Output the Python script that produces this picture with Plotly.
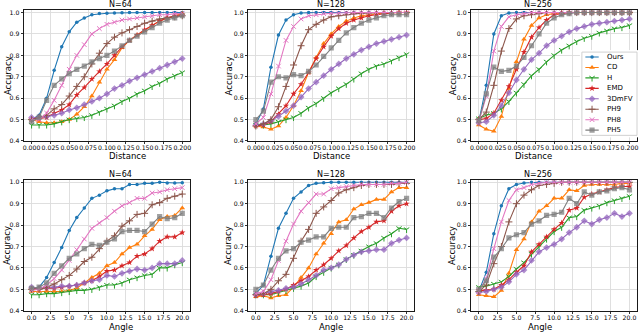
import plotly.graph_objects as go

# ---------------- data ----------------
DIST = [0.00, 0.01, 0.02, 0.03, 0.04, 0.05, 0.06, 0.07, 0.08, 0.09, 0.10,
        0.11, 0.12, 0.13, 0.14, 0.15, 0.16, 0.17, 0.18, 0.19, 0.20]
ANGLE = [0, 1, 2, 3, 4, 5, 6, 7, 8, 9, 10, 11, 12, 13, 14, 15, 16, 17, 18, 19, 20]

SERIES = ["Ours", "CD", "H", "EMD", "3DmFV", "PH9", "PH8", "PH5"]
TITLES = ["N=64", "N=128", "N=256"]

DIST_TICKS = [0.0, 0.025, 0.05, 0.075, 0.1, 0.125, 0.15, 0.175, 0.2]
ANGLE_TICKS = [0.0, 2.5, 5.0, 7.5, 10.0, 12.5, 15.0, 17.5, 20.0]
ACC_TICKS = [0.4, 0.5, 0.6, 0.7, 0.8, 0.9, 1.0]

# Distance, N=64
D64_OURS = [0.50, 0.52, 0.60, 0.73, 0.84, 0.91, 0.955, 0.975, 0.99, 0.995, 0.997, 0.998, 0.999, 1.0, 1.0, 1.0, 1.0, 1.0, 1.0, 1.0, 1.0]
D64_CD = [0.50, 0.49, 0.485, 0.485, 0.49, 0.50, 0.525, 0.56, 0.61, 0.675, 0.735, 0.78, 0.835, 0.87, 0.895, 0.915, 0.94, 0.96, 0.975, 0.985, 0.995]
D64_H = [0.475, 0.475, 0.475, 0.48, 0.49, 0.50, 0.505, 0.51, 0.52, 0.535, 0.55, 0.565, 0.585, 0.60, 0.62, 0.635, 0.655, 0.67, 0.69, 0.705, 0.72]
D64_EMD = [0.50, 0.505, 0.51, 0.53, 0.545, 0.57, 0.615, 0.65, 0.69, 0.725, 0.76, 0.80, 0.84, 0.87, 0.895, 0.92, 0.94, 0.96, 0.975, 0.985, 0.99]
D64_3DMFV = [0.51, 0.51, 0.515, 0.52, 0.53, 0.545, 0.555, 0.57, 0.585, 0.60, 0.62, 0.645, 0.66, 0.68, 0.695, 0.71, 0.725, 0.74, 0.755, 0.77, 0.785]
D64_PH9 = [0.50, 0.51, 0.52, 0.55, 0.57, 0.61, 0.655, 0.70, 0.76, 0.81, 0.855, 0.885, 0.905, 0.92, 0.935, 0.95, 0.96, 0.97, 0.975, 0.98, 0.985]
D64_PH8 = [0.50, 0.50, 0.53, 0.59, 0.66, 0.735, 0.80, 0.85, 0.90, 0.925, 0.945, 0.955, 0.965, 0.97, 0.975, 0.98, 0.985, 0.99, 0.99, 0.995, 0.995]
D64_PH5 = [0.49, 0.51, 0.59, 0.66, 0.69, 0.715, 0.735, 0.75, 0.77, 0.785, 0.80, 0.82, 0.845, 0.87, 0.89, 0.91, 0.93, 0.95, 0.965, 0.975, 0.985]

# Distance, N=128
D128_OURS = [0.48, 0.55, 0.745, 0.895, 0.965, 0.99, 0.998, 1.0, 1.0, 1.0, 1.0, 1.0, 1.0, 1.0, 1.0, 1.0, 1.0, 1.0, 1.0, 1.0, 1.0]
D128_CD = [0.47, 0.465, 0.455, 0.47, 0.51, 0.565, 0.635, 0.72, 0.79, 0.855, 0.90, 0.935, 0.96, 0.975, 0.985, 0.99, 0.995, 0.998, 1.0, 1.0, 1.0]
D128_H = [0.475, 0.475, 0.48, 0.49, 0.50, 0.51, 0.53, 0.555, 0.575, 0.60, 0.625, 0.645, 0.665, 0.69, 0.715, 0.735, 0.75, 0.76, 0.775, 0.79, 0.805]
D128_EMD = [0.47, 0.475, 0.49, 0.525, 0.565, 0.62, 0.665, 0.72, 0.785, 0.84, 0.89, 0.925, 0.95, 0.965, 0.975, 0.985, 0.99, 0.995, 0.998, 1.0, 1.0]
D128_3DMFV = [0.475, 0.48, 0.495, 0.515, 0.54, 0.565, 0.605, 0.645, 0.675, 0.705, 0.735, 0.76, 0.785, 0.805, 0.825, 0.84, 0.855, 0.865, 0.875, 0.885, 0.895]
D128_PH9 = [0.47, 0.48, 0.50, 0.56, 0.655, 0.755, 0.845, 0.92, 0.945, 0.965, 0.98, 0.985, 0.99, 0.995, 0.997, 0.998, 1.0, 1.0, 1.0, 1.0, 1.0]
D128_PH8 = [0.48, 0.51, 0.62, 0.75, 0.87, 0.935, 0.97, 0.985, 0.99, 0.995, 0.997, 0.998, 1.0, 1.0, 1.0, 1.0, 1.0, 1.0, 1.0, 1.0, 1.0]
D128_PH5 = [0.50, 0.54, 0.675, 0.70, 0.695, 0.71, 0.705, 0.725, 0.755, 0.795, 0.835, 0.87, 0.905, 0.93, 0.95, 0.965, 0.975, 0.985, 0.99, 0.99, 0.99]

# Distance, N=256
D256_OURS = [0.49, 0.66, 0.90, 0.985, 0.998, 1.0, 1.0, 1.0, 1.0, 1.0, 1.0, 1.0, 1.0, 1.0, 1.0, 1.0, 1.0, 1.0, 1.0, 1.0, 1.0]
D256_CD = [0.475, 0.455, 0.445, 0.515, 0.645, 0.77, 0.875, 0.94, 0.975, 0.99, 0.995, 1.0, 1.0, 1.0, 1.0, 1.0, 1.0, 1.0, 1.0, 1.0, 1.0]
D256_H = [0.505, 0.52, 0.53, 0.55, 0.585, 0.625, 0.665, 0.705, 0.735, 0.77, 0.80, 0.825, 0.845, 0.865, 0.88, 0.89, 0.905, 0.915, 0.925, 0.93, 0.94]
D256_EMD = [0.50, 0.505, 0.53, 0.59, 0.655, 0.735, 0.815, 0.885, 0.93, 0.965, 0.99, 0.995, 1.0, 1.0, 1.0, 1.0, 1.0, 1.0, 1.0, 1.0, 1.0]
D256_3DMFV = [0.485, 0.49, 0.52, 0.565, 0.625, 0.685, 0.735, 0.78, 0.81, 0.845, 0.87, 0.89, 0.91, 0.925, 0.935, 0.945, 0.95, 0.955, 0.96, 0.965, 0.97]
D256_PH9 = [0.50, 0.535, 0.66, 0.82, 0.925, 0.97, 0.985, 0.99, 0.995, 1.0, 1.0, 1.0, 1.0, 1.0, 1.0, 1.0, 1.0, 1.0, 1.0, 1.0, 1.0]
D256_PH8 = [0.49, 0.61, 0.82, 0.935, 0.98, 0.99, 0.995, 1.0, 1.0, 1.0, 1.0, 1.0, 1.0, 1.0, 1.0, 1.0, 1.0, 1.0, 1.0, 1.0, 1.0]
D256_PH5 = [0.495, 0.62, 0.745, 0.725, 0.73, 0.75, 0.79, 0.845, 0.90, 0.95, 0.975, 0.99, 0.995, 1.0, 1.0, 1.0, 1.0, 1.0, 1.0, 1.0, 1.0]

# Angle, N=64
A64_OURS = [0.50, 0.51, 0.555, 0.625, 0.695, 0.775, 0.835, 0.88, 0.925, 0.94, 0.96, 0.97, 0.97, 0.99, 0.99, 0.995, 0.995, 1.0, 0.997, 0.997, 0.998]
A64_CD = [0.49, 0.49, 0.49, 0.49, 0.49, 0.495, 0.505, 0.53, 0.555, 0.575, 0.61, 0.625, 0.665, 0.695, 0.71, 0.75, 0.78, 0.825, 0.84, 0.845, 0.88]
A64_H = [0.475, 0.475, 0.48, 0.48, 0.485, 0.49, 0.495, 0.495, 0.50, 0.51, 0.52, 0.52, 0.53, 0.545, 0.555, 0.565, 0.57, 0.60, 0.60, 0.615, 0.625]
A64_EMD = [0.50, 0.505, 0.505, 0.505, 0.51, 0.515, 0.52, 0.53, 0.54, 0.56, 0.585, 0.59, 0.61, 0.625, 0.655, 0.665, 0.69, 0.725, 0.745, 0.745, 0.765]
A64_3DMFV = [0.51, 0.505, 0.51, 0.51, 0.515, 0.515, 0.52, 0.53, 0.54, 0.545, 0.565, 0.56, 0.575, 0.585, 0.595, 0.59, 0.60, 0.62, 0.62, 0.62, 0.635]
A64_PH9 = [0.50, 0.50, 0.51, 0.525, 0.545, 0.565, 0.595, 0.63, 0.65, 0.69, 0.725, 0.75, 0.795, 0.82, 0.85, 0.855, 0.895, 0.905, 0.925, 0.935, 0.945]
A64_PH8 = [0.495, 0.50, 0.52, 0.55, 0.59, 0.635, 0.685, 0.735, 0.785, 0.81, 0.835, 0.865, 0.89, 0.905, 0.925, 0.925, 0.95, 0.955, 0.965, 0.97, 0.975]
A64_PH5 = [0.505, 0.51, 0.53, 0.575, 0.61, 0.645, 0.665, 0.69, 0.71, 0.705, 0.72, 0.735, 0.77, 0.775, 0.775, 0.77, 0.805, 0.84, 0.83, 0.835, 0.855]

# Angle, N=128
A128_OURS = [0.48, 0.52, 0.655, 0.785, 0.855, 0.925, 0.955, 0.985, 0.995, 0.998, 1.0, 1.0, 1.0, 1.0, 1.0, 1.0, 1.0, 1.0, 1.0, 1.0, 1.0]
A128_CD = [0.465, 0.47, 0.46, 0.47, 0.475, 0.51, 0.555, 0.60, 0.665, 0.715, 0.76, 0.815, 0.825, 0.875, 0.895, 0.905, 0.92, 0.92, 0.955, 0.975, 0.975]
A128_H = [0.475, 0.475, 0.475, 0.485, 0.495, 0.505, 0.515, 0.53, 0.56, 0.58, 0.60, 0.615, 0.64, 0.66, 0.68, 0.70, 0.715, 0.74, 0.76, 0.785, 0.78]
A128_EMD = [0.47, 0.475, 0.48, 0.49, 0.50, 0.52, 0.54, 0.56, 0.59, 0.615, 0.645, 0.68, 0.705, 0.74, 0.77, 0.79, 0.815, 0.82, 0.865, 0.89, 0.90]
A128_3DMFV = [0.475, 0.48, 0.49, 0.495, 0.505, 0.51, 0.525, 0.545, 0.565, 0.59, 0.60, 0.615, 0.64, 0.66, 0.675, 0.68, 0.685, 0.685, 0.715, 0.73, 0.74]
A128_PH9 = [0.475, 0.48, 0.50, 0.54, 0.57, 0.645, 0.725, 0.78, 0.855, 0.885, 0.915, 0.95, 0.965, 0.975, 0.985, 0.99, 0.99, 0.99, 0.99, 0.995, 0.995]
A128_PH8 = [0.48, 0.49, 0.545, 0.635, 0.725, 0.805, 0.865, 0.905, 0.945, 0.945, 0.97, 0.975, 0.98, 0.985, 0.99, 0.99, 0.99, 0.99, 0.995, 0.995, 1.0]
A128_PH5 = [0.50, 0.52, 0.59, 0.645, 0.68, 0.69, 0.72, 0.73, 0.745, 0.745, 0.785, 0.79, 0.79, 0.835, 0.84, 0.855, 0.855, 0.835, 0.88, 0.91, 0.925]

# Angle, N=256
A256_OURS = [0.49, 0.58, 0.76, 0.89, 0.97, 0.99, 0.997, 1.0, 1.0, 1.0, 1.0, 1.0, 1.0, 1.0, 1.0, 1.0, 1.0, 1.0, 1.0, 1.0, 1.0]
A256_CD = [0.475, 0.47, 0.465, 0.495, 0.575, 0.685, 0.735, 0.815, 0.865, 0.89, 0.925, 0.925, 0.965, 0.96, 0.985, 0.99, 0.99, 0.99, 0.99, 0.995, 0.995]
A256_H = [0.51, 0.515, 0.525, 0.535, 0.56, 0.595, 0.625, 0.665, 0.70, 0.735, 0.77, 0.79, 0.835, 0.84, 0.87, 0.88, 0.89, 0.905, 0.915, 0.925, 0.935]
A256_EMD = [0.495, 0.495, 0.50, 0.52, 0.545, 0.58, 0.61, 0.675, 0.71, 0.745, 0.78, 0.81, 0.87, 0.88, 0.93, 0.945, 0.955, 0.965, 0.975, 0.98, 0.98]
A256_3DMFV = [0.485, 0.49, 0.50, 0.51, 0.535, 0.57, 0.59, 0.635, 0.675, 0.695, 0.71, 0.735, 0.765, 0.79, 0.82, 0.805, 0.825, 0.835, 0.855, 0.84, 0.855]
A256_PH9 = [0.49, 0.52, 0.62, 0.70, 0.815, 0.90, 0.94, 0.965, 0.985, 0.99, 0.995, 1.0, 1.0, 1.0, 1.0, 1.0, 1.0, 1.0, 1.0, 1.0, 1.0]
A256_PH8 = [0.49, 0.55, 0.69, 0.815, 0.915, 0.965, 0.975, 0.99, 0.995, 1.0, 1.0, 1.0, 1.0, 1.0, 1.0, 1.0, 1.0, 1.0, 1.0, 1.0, 1.0]
A256_PH5 = [0.50, 0.54, 0.65, 0.69, 0.74, 0.755, 0.765, 0.805, 0.82, 0.845, 0.85, 0.86, 0.925, 0.90, 0.955, 0.94, 0.955, 0.96, 0.97, 0.975, 0.965]

PANELS = [
    (DIST, [D64_OURS, D64_CD, D64_H, D64_EMD, D64_3DMFV, D64_PH9, D64_PH8, D64_PH5]),
    (DIST, [D128_OURS, D128_CD, D128_H, D128_EMD, D128_3DMFV, D128_PH9, D128_PH8, D128_PH5]),
    (DIST, [D256_OURS, D256_CD, D256_H, D256_EMD, D256_3DMFV, D256_PH9, D256_PH8, D256_PH5]),
    (ANGLE, [A64_OURS, A64_CD, A64_H, A64_EMD, A64_3DMFV, A64_PH9, A64_PH8, A64_PH5]),
    (ANGLE, [A128_OURS, A128_CD, A128_H, A128_EMD, A128_3DMFV, A128_PH9, A128_PH8, A128_PH5]),
    (ANGLE, [A256_OURS, A256_CD, A256_H, A256_EMD, A256_3DMFV, A256_PH9, A256_PH8, A256_PH5]),
]

# ---------------- style ----------------
W, H = 640, 334
FONT = "DejaVu Sans"
COLORS = ["#1f77b4", "#ff7f0e", "#2ca02c", "#d62728", "#9467bd", "#8c564b", "#e377c2", "#7f7f7f"]
SYMBOLS = ["circle", "triangle-up", "y-down-open", "star", "diamond", "cross-thin-open", "x-thin-open", "square"]
MSIZES = [3.5, 5, 4.5, 4.8, 5.2, 5, 4.6, 5.2]
MOPAC = [1, 1, 1, 1, 0.75, 1, 1, 0.75]
OPEN = [False, False, True, False, False, True, True, False]

COL_PX = [(23.1, 189.4), (248.1, 414.4), (471.7, 638.0)]
ROW_PX = [(9.3, 141.7), (181.1, 313.5)]
XTITLE_PX = [156.5, 330.0]         # vertical centre of "Distance" / "Angle"
YTITLE_PX = [6.5, 228.5, 453.0]    # horizontal centre of "Accuracy" per column


def xdom(c):
    a, b = COL_PX[c]
    return [a / W, b / W]


def ydom(r):
    a, b = ROW_PX[r]
    return [1 - b / H, 1 - a / H]


fig = go.Figure()

for p, (xs, ys_list) in enumerate(PANELS):
    r, c = divmod(p, 3)
    idx = p + 1
    xa = "x" if idx == 1 else f"x{idx}"
    ya = "y" if idx == 1 else f"y{idx}"
    for k, name in enumerate(SERIES):
        mk = dict(symbol=SYMBOLS[k], size=MSIZES[k], color=COLORS[k], opacity=MOPAC[k])
        if OPEN[k]:
            mk["line"] = dict(color=COLORS[k], width=1)
        else:
            mk["line"] = dict(width=0)
        fig.add_trace(go.Scatter(
            x=xs, y=ys_list[k], name=name, mode="lines+markers",
            line=dict(color=COLORS[k], width=1.1), marker=mk,
            xaxis=xa, yaxis=ya, showlegend=False,
        ))
    is_dist = r == 0
    axcommon = dict(showline=True, mirror=True, linecolor="#000000", linewidth=0.9,
                    ticks="outside", ticklen=2.5, tickwidth=0.8, tickcolor="#000000",
                    showgrid=True, gridcolor="#dcdcdc", gridwidth=0.9, zeroline=False,
                    tickangle=0,
                    tickfont=dict(family=FONT, size=6.2, color="#000000"))
    fig.update_layout(**{
        ("xaxis" if idx == 1 else f"xaxis{idx}"): dict(
            domain=xdom(c), anchor=ya,
            range=[-0.01, 0.21] if is_dist else [-1, 21],
            tickvals=DIST_TICKS if is_dist else ANGLE_TICKS,
            tickformat=".3f" if is_dist else ".1f",
            ticklabelstandoff=-2,
            **axcommon),
        ("yaxis" if idx == 1 else f"yaxis{idx}"): dict(
            domain=ydom(r), anchor=xa, range=[0.4, 1.011],
            tickvals=ACC_TICKS, tickformat=".1f",
            **axcommon),
    })
    xd = xdom(c)
    yd = ydom(r)
    # panel title
    fig.add_annotation(text=TITLES[c], xref="paper", yref="paper",
                       x=(xd[0] + xd[1]) / 2, y=yd[1], yanchor="bottom", yshift=-1,
                       showarrow=False, font=dict(family=FONT, size=8, color="#000000"))
    # axis titles
    fig.add_annotation(text="Distance" if is_dist else "Angle", xref="paper", yref="paper",
                       x=(xd[0] + xd[1]) / 2, y=1 - XTITLE_PX[r] / H, yanchor="middle",
                       showarrow=False, font=dict(family=FONT, size=8.5, color="#000000"))
    fig.add_annotation(text="Accuracy", xref="paper", yref="paper", textangle=-90,
                       x=YTITLE_PX[c] / W, y=(yd[0] + yd[1]) / 2,
                       xanchor="center", yanchor="middle",
                       showarrow=False, font=dict(family=FONT, size=8.5, color="#000000"))

# ---------------- legend (drawn on its own small axis inside panel 3) ----------------
LEG_X = (580.7, 640.0)
LEG_Y = (49.7, 138.0)
fig.update_layout(
    xaxis7=dict(domain=[LEG_X[0] / W, LEG_X[1] / W], range=[0, LEG_X[1] - LEG_X[0]], anchor="y7",
                visible=False, fixedrange=True),
    yaxis7=dict(domain=[1 - LEG_Y[1] / H, 1 - LEG_Y[0] / H], range=[LEG_Y[1], LEG_Y[0]], anchor="x7",
                visible=False, fixedrange=True),
)
fig.add_shape(type="rect", xref="x7", yref="y7", x0=2.0, x1=57.3, y0=51.7, y1=136.0,
              layer="between", fillcolor="rgba(255,255,255,0.8)",
              line=dict(color="#cccccc", width=0.9))
for k, name in enumerate(SERIES):
    yy = 56.7 + 10.57 * k
    mk = dict(symbol=SYMBOLS[k], size=[0, MSIZES[k], 0], color=COLORS[k], opacity=MOPAC[k])
    mk["line"] = dict(color=COLORS[k], width=1) if OPEN[k] else dict(width=0)
    fig.add_trace(go.Scatter(x=[5.5, 12.2, 18.9], y=[yy, yy, yy], mode="lines+markers",
                             line=dict(color=COLORS[k], width=1.1), marker=mk,
                             xaxis="x7", yaxis="y7", showlegend=False, hoverinfo="skip"))
    fig.add_annotation(text=name, xref="x7", yref="y7", x=25.3, y=yy, xanchor="left",
                       yanchor="middle", showarrow=False,
                       font=dict(family=FONT, size=7, color="#000000"))

fig.update_layout(width=W, height=H, margin=dict(l=0, r=0, t=0, b=0),
                  paper_bgcolor="white", plot_bgcolor="white", showlegend=False,
                  hovermode=False,
                  font=dict(family=FONT, color="#000000"))

# the page's default 8px body margin would shift the whole figure; remove it
fig.write_html("out.html", config={"displayModeBar": False, "staticPlot": True},
               post_script="document.body.style.margin='0px';document.body.style.overflow='hidden';")
